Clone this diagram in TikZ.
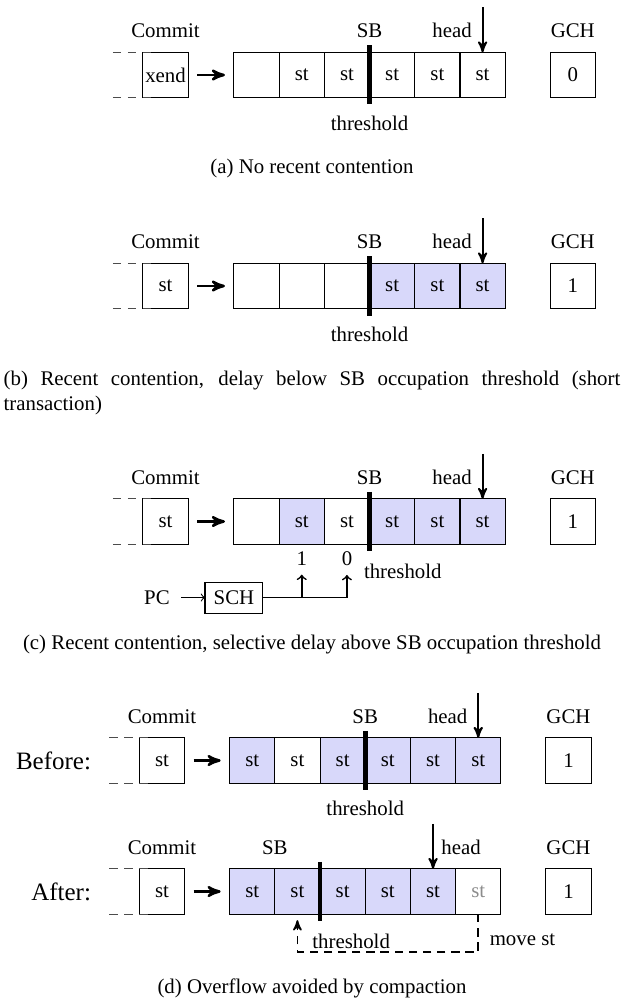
\documentclass[tikz,border=0pt]{standalone}
\usepackage{fontspec}
\setmainfont{Liberation Serif}
\usetikzlibrary{arrows,positioning}
\definecolor{stblue}{RGB}{216,216,250}

\begin{document}
\begin{tikzpicture}[x=0.48pt,y=-0.48pt,>=stealth']
  \tikzstyle{cell}=[rectangle,draw=black,line width=0.5pt,fill=white,outer sep=0pt,inner sep=0pt,minimum size=21.7pt]
  \tikzstyle{busy}=[cell,fill=stblue]
  \tikzstyle{regbox}=[rectangle,draw=black,line width=0.5pt,outer sep=0pt,minimum width=27.8pt,minimum height=14.9pt]
  \tikzstyle{post}=[->,line width=1.2pt,shorten <=4.3pt,shorten >=4.3pt]
  \tikzstyle{ptr}=[->,line width=0.9pt]
  \tikzstyle{thresh}=[line width=2.2pt]
  \tikzstyle{prev}=[draw=black!70,line width=0.5pt,dash pattern=on 4pt off 3.2pt]
  \tikzstyle{sel}=[-to,line width=0.5pt]
  \tikzstyle{mv}=[->,line width=0.8pt,dash pattern=on 4pt off 2.8pt,shorten >=2.9pt]

  \useasboundingbox (0,0) rectangle (628,998);

  % (a) No recent contention.
  \begin{scope}
    \node [cell] (cm1) at (165.5,75) {xend};
    \node [cell] (s11) [right=22pt of cm1] {};
    \node [cell] (s12) [right=0pt of s11] {st};
    \node [cell] (s13) [right=0pt of s12] {st};
    \node [cell] (s14) [right=0pt of s13] {st};
    \node [cell] (s15) [right=0pt of s14] {st};
    \node [cell] (s16) [right=0pt of s15] {st};
    \node [cell] (g1) [right=21.6pt of s16] {0};

    \node (lc1) [above=3.5pt of cm1] {Commit};
    \node (lb1) [above=3.5pt of s13.north east] {SB};
    \node (lg1) [above=3.5pt of g1] {GCH};
    \node (lh1) [above left=3.5pt and 1.7pt of s16.north] {head};
    \node (lt1) [below=5.3pt of s13.south east] {threshold};
    \coordinate [above=21.6pt of s16.north] (h1);

    \draw [prev] ([xshift=-14.4pt]cm1.north west) -- ([xshift=4.3pt]cm1.north west);
    \draw [prev] ([xshift=-14.4pt]cm1.south west) -- ([xshift=4.3pt]cm1.south west);
    \draw [thresh] ([yshift=3.4pt]s13.north east) -- ([yshift=-2.9pt]s13.south east);
    \draw [ptr] (h1) -- (s16.north);
    \path (cm1) edge [post] (s11);

    \node (capa) at (312,168) {(a) No recent contention};
  \end{scope}

  % (b) Delay below the threshold.
  \begin{scope}
    \node [cell] (cm2) at (165.5,286) {st};
    \node [cell] (s21) [right=22pt of cm2] {};
    \node [cell] (s22) [right=0pt of s21] {};
    \node [cell] (s23) [right=0pt of s22] {};
    \node [busy] (s24) [right=0pt of s23] {st};
    \node [busy] (s25) [right=0pt of s24] {st};
    \node [busy] (s26) [right=0pt of s25] {st};
    \node [cell] (g2) [right=21.6pt of s26] {1};

    \node (lc2) [above=3.5pt of cm2] {Commit};
    \node (lb2) [above=3.5pt of s23.north east] {SB};
    \node (lg2) [above=3.5pt of g2] {GCH};
    \node (lh2) [above left=3.5pt and 1.7pt of s26.north] {head};
    \node (lt2) [below=5.3pt of s23.south east] {threshold};
    \coordinate [above=21.6pt of s26.north] (h2);

    \draw [prev] ([xshift=-14.4pt]cm2.north west) -- ([xshift=4.3pt]cm2.north west);
    \draw [prev] ([xshift=-14.4pt]cm2.south west) -- ([xshift=4.3pt]cm2.south west);
    \draw [thresh] ([yshift=3.4pt]s23.north east) -- ([yshift=-3.4pt]s23.south east);
    \draw [ptr] (h2) -- (s26.north);
    \path (cm2) edge [post] (s21);

    \node (capb) [align=left] at (312,393) {\makebox[296pt][s]{(b) Recent contention, delay below SB occupation threshold (short}\\transaction)};
  \end{scope}

  % (c) Selective delay above the threshold.
  \begin{scope}
    \node [cell] (cm3) at (165.5,521.5) {st};
    \node [cell] (s31) [right=22pt of cm3] {};
    \node [busy] (s32) [right=0pt of s31] {st};
    \node [cell] (s33) [right=0pt of s32] {st};
    \node [busy] (s34) [right=0pt of s33] {st};
    \node [busy] (s35) [right=0pt of s34] {st};
    \node [busy] (s36) [right=0pt of s35] {st};
    \node [cell] (g3) [right=21.6pt of s36] {1};

    \node (lc3) [above=3.5pt of cm3] {Commit};
    \node (lb3) [above=3.5pt of s33.north east] {SB};
    \node (lg3) [above=3.5pt of g3] {GCH};
    \node (lh3) [above left=3.5pt and 1.7pt of s36.north] {head};
    \node (lt3) [below right=5.8pt and -6.2pt of s33.south east] {threshold};
    \coordinate [above=21.6pt of s36.north] (h3);

    \node (n1) [below=0pt of s32] {1};
    \node (n0) [below=0pt of s33] {0};
    \node [regbox] (sch) [below=18.2pt of s31.south west] {SCH};
    \node (pc) [left=13.4pt of sch] {PC};

    \draw [prev] ([xshift=-14.4pt]cm3.north west) -- ([xshift=4.3pt]cm3.north west);
    \draw [prev] ([xshift=-14.4pt]cm3.south west) -- ([xshift=4.3pt]cm3.south west);
    \draw [thresh] ([yshift=3.4pt]s33.north east) -- ([yshift=-3.4pt]s33.south east);
    \draw [ptr] (h3) -- (s36.north);
    \path (cm3) edge [post] (s31);
    \path (pc) edge [sel,shorten <=2pt] (sch);
    \draw [sel,line width=0.8pt,shorten >=1pt] (sch.east) -| (n1);
    \draw [sel,line width=0.8pt,shorten >=1pt] (sch.east) -| (n0);

    \node (capc) at (312,645) {(c) Recent contention, selective delay above SB occupation threshold};
  \end{scope}

  % (d) Compaction, before and after.
  \begin{scope}
    % Before.
    \node [cell] (cm4) at (162,760.5) {st};
    \node [busy] (s41) [right=21.6pt of cm4] {st};
    \node [cell] (s42) [right=0pt of s41] {st};
    \node [busy] (s43) [right=0pt of s42] {st};
    \node [busy] (s44) [right=0pt of s43] {st};
    \node [busy] (s45) [right=0pt of s44] {st};
    \node [busy] (s46) [right=0pt of s45] {st};
    \node [cell] (g4) [right=21.6pt of s46] {1};

    \node (bf) [left=19.7pt of cm4,font=\large] {Before:};
    \node (lc4) [above=3.5pt of cm4] {Commit};
    \node (lb4) [above=3.5pt of s43.north east] {SB};
    \node (lg4) [above=3.5pt of g4] {GCH};
    \node (lh4) [above left=3.5pt and 1.7pt of s46.north] {head};
    \node (lt4) [below=5.3pt of s43.south east] {threshold};
    \coordinate [above=21.6pt of s46.north] (h4);

    \draw [prev] ([xshift=-14.4pt]cm4.north west) -- ([xshift=4.3pt]cm4.north west);
    \draw [prev] ([xshift=-14.4pt]cm4.south west) -- ([xshift=4.3pt]cm4.south west);
    \draw [thresh] ([yshift=3.4pt]s43.north east) -- ([yshift=-3.4pt]s43.south east);
    \draw [ptr] (h4) -- (s46.north);
    \path (cm4) edge [post] (s41);

    % After.
    \node [cell] (cm5) at (162,891.5) {st};
    \node [busy] (s51) [right=21.6pt of cm5] {st};
    \node [busy] (s52) [right=0pt of s51] {st};
    \node [busy] (s53) [right=0pt of s52] {st};
    \node [busy] (s54) [right=0pt of s53] {st};
    \node [busy] (s55) [right=0pt of s54] {st};
    \node [cell,text=black!45] (s56) [right=0pt of s55] {st};
    \node [cell] (g5) [right=21.6pt of s56] {1};

    \node (af) [left=19.7pt of cm5,font=\large] {After:};
    \node (lc5) [above=3.5pt of cm5] {Commit};
    \node (lb5) [above=3.5pt of s51.north east] {SB};
    \node (lg5) [above=3.5pt of g5] {GCH};
    \node (lh5) [above right=3.5pt and 0.5pt of s55.north] {head};
    \node (lt5) [below right=5.8pt and -7.2pt of s52.south east] {threshold};
    \node (lm5) [below right=5.8pt and 2pt of s56.south] {move st};
    \coordinate [above=21.6pt of s55.north] (h5);

    \draw [prev] ([xshift=-14.4pt]cm5.north west) -- ([xshift=4.3pt]cm5.north west);
    \draw [prev] ([xshift=-14.4pt]cm5.south west) -- ([xshift=4.3pt]cm5.south west);
    \draw [thresh] ([yshift=3.4pt]s52.north east) -- ([yshift=-3.4pt]s52.south east);
    \draw [ptr] (h5) -- (s55.north);
    \path (cm5) edge [post] (s51);
    \draw [mv] (s56.south) -- ++(0,38) -| (s52.south);

    \node (capd) at (312,988) {(d) Overflow avoided by compaction};
  \end{scope}
\end{tikzpicture}
\end{document}
